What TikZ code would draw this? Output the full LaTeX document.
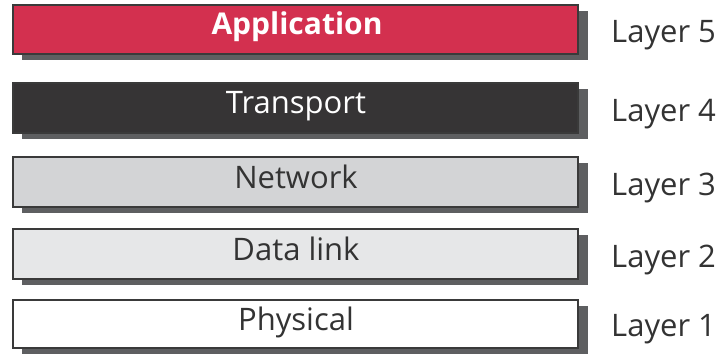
\documentclass[tikz,border=0pt]{standalone}
\usepackage{fontspec}
\setmainfont{Open Sans}
\definecolor{appred}{HTML}{D3304F}
\definecolor{transdark}{HTML}{363435}
\definecolor{netgray}{HTML}{D3D4D6}
\definecolor{dlgray}{HTML}{E6E7E8}
\definecolor{shadowgray}{HTML}{5E5F61}
\definecolor{edgegray}{HTML}{3A3A3A}
\definecolor{textgray}{HTML}{333333}
\begin{document}
\begin{tikzpicture}[x=1pt,y=-1pt,
  layerbox/.style={draw=edgegray,line width=1.6pt,inner sep=0pt},
  boxtext/.style={anchor=base,inner sep=0pt,font=\fontsize{31}{34}\selectfont},
  layerlabel/.style={anchor=base west,inner sep=0pt,text=textgray,font=\fontsize{31}{34}\selectfont}]
\useasboundingbox (0,0) rectangle (722,353);
% shadows
\foreach \t/\b in {5/54,83/133,157/207,229/279,300/348}{
  \fill[shadowgray] (22,\t+6) rectangle (588,\b+6);
}
% boxes
\filldraw[layerbox,fill=appred] (13,5) rectangle (578,54);
\filldraw[layerbox,fill=transdark] (13,83) rectangle (578,133);
\filldraw[layerbox,fill=netgray] (13,157) rectangle (578,207);
\filldraw[layerbox,fill=dlgray] (13,229) rectangle (578,279);
\filldraw[layerbox,fill=white] (13,300) rectangle (578,348);
% box texts
\node[boxtext,text=white,font=\fontsize{30}{33}\selectfont\bfseries] (app) at (297,35) {Application};
\node[boxtext,text=white] (tra) at (296,113.5) {Transport};
\node[boxtext,text=textgray] (net) at (296,188) {Network};
\node[boxtext,text=textgray] (dl) at (296,260) {Data link};
\node[boxtext,text=textgray] (phy) at (296,330) {Physical};
% layer labels
\node[layerlabel] (l5) at (611,42) {Layer 5};
\node[layerlabel] (l4) at (611,121) {Layer 4};
\node[layerlabel] (l3) at (611,195) {Layer 3};
\node[layerlabel] (l2) at (611,267) {Layer 2};
\node[layerlabel] (l1) at (611,336) {Layer 1};
\end{tikzpicture}
\end{document}
